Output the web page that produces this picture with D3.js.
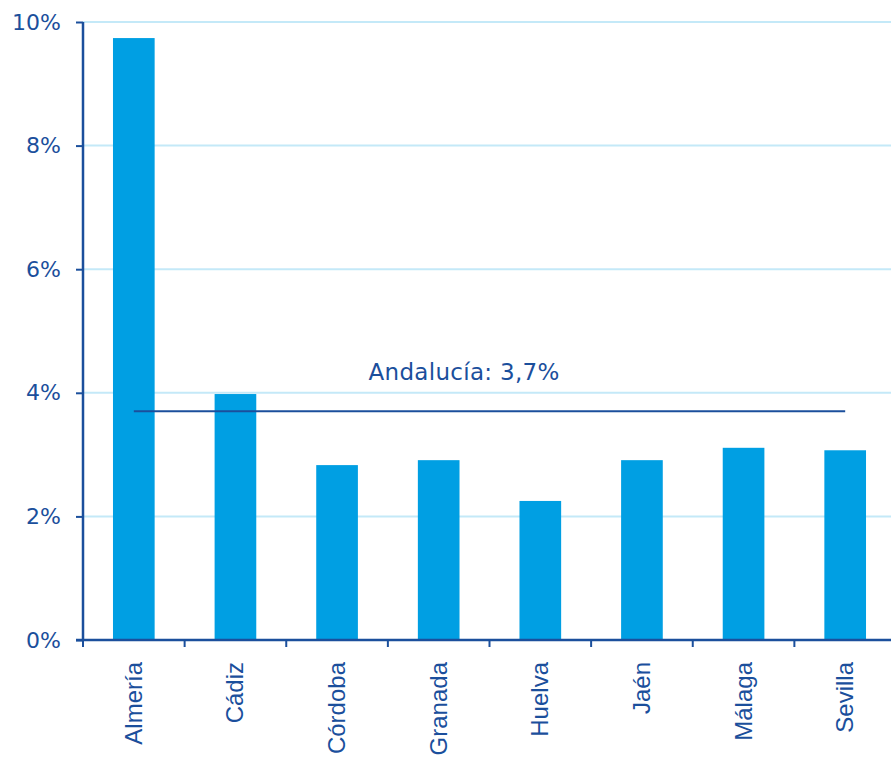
<!DOCTYPE html>
<html>
<head>
<meta charset="utf-8">
<script src="https://cdn.jsdelivr.net/npm/d3@7"></script>
<style>
  body { margin: 0; background: #fff; }
  svg { display: block; }
</style>
</head>
<body>
<svg id="chart"></svg>
<script>
// data
const provinces = ['Almería', 'Cádiz', 'Córdoba', 'Granada', 'Huelva', 'Jaén', 'Málaga', 'Sevilla'];
const rates = [9.74, 3.98, 2.83, 2.91, 2.25, 2.91, 3.11, 3.07];
const yTicks = [0, 2, 4, 6, 8, 10];
const regionLabel = 'Andalucía: 3,7%';
const regionRate = 3.7;

const config = {
  containerWidth: 891,
  containerHeight: 758,
  margin: { top: 22, right: -5, bottom: 118, left: 83 }
};
const width = config.containerWidth - config.margin.left - config.margin.right;
const height = config.containerHeight - config.margin.top - config.margin.bottom;

const blue = '#009fe3';
const dark = '#1b4f9c';
const grid = '#c4e9f8';

const svg = d3.select('#chart')
    .attr('width', config.containerWidth)
    .attr('height', config.containerHeight);

const chart = svg.append('g')
    .attr('transform', `translate(${config.margin.left},${config.margin.top})`);

const xScale = d3.scaleBand()
    .domain(provinces)
    .range([0, width])
    .paddingInner(0.59)
    .paddingOuter(0.295);

// band boundaries for the category ticks
const xEdges = d3.scaleBand().domain(provinces).range([0, width]);

const yScale = d3.scaleLinear()
    .domain([0, 10])
    .range([height, 0]);

// gridlines
chart.append('g')
  .selectAll('line')
  .data(yTicks.filter(d => d > 0))
  .join('line')
    .attr('x1', 0)
    .attr('x2', width)
    .attr('y1', d => yScale(d))
    .attr('y2', d => yScale(d))
    .attr('stroke', grid)
    .attr('stroke-width', 2);

// bars
chart.append('g')
  .selectAll('rect')
  .data(provinces.map((p, i) => ({ name: p, value: rates[i] })))
  .join('rect')
    .attr('x', d => xScale(d.name))
    .attr('y', d => yScale(d.value))
    .attr('width', xScale.bandwidth())
    .attr('height', d => height - yScale(d.value))
    .attr('fill', blue);

// regional average line + label
const lineX1 = xScale('Almería') + xScale.bandwidth() / 2;
const lineX2 = xScale('Sevilla') + xScale.bandwidth() / 2;
chart.append('line')
    .attr('x1', lineX1)
    .attr('x2', lineX2)
    .attr('y1', yScale(regionRate))
    .attr('y2', yScale(regionRate))
    .attr('stroke', dark)
    .attr('stroke-width', 2);

chart.append('text')
    .attr('x', xEdges('Granada') + xEdges.bandwidth() * 0.75)
    .attr('y', yScale(regionRate) - 31)
    .attr('text-anchor', 'middle')
    .attr('fill', dark)
    .style('font-family', '"DejaVu Sans", Verdana, sans-serif')
    .style('font-size', '23px')
    .style('letter-spacing', '0.3px')
    .text(regionLabel);

// y axis
const yAxis = d3.axisLeft(yScale)
    .tickValues(yTicks)
    .tickSize(7)
    .tickPadding(15)
    .tickFormat(d => d + '%');

const yAxisG = chart.append('g').call(yAxis);
yAxisG.select('.domain').attr('stroke', dark).attr('stroke-width', 2.5)
    .attr('d', `M0,0V${height}`);
yAxisG.selectAll('.tick line').attr('stroke', dark).attr('stroke-width', 2);
yAxisG.selectAll('.tick text')
    .attr('fill', dark)
    .style('font-family', '"DejaVu Sans", Verdana, sans-serif')
    .style('font-size', '22px');

// x axis
const xAxisG = chart.append('g')
    .attr('transform', `translate(0,${height})`);

xAxisG.append('line')
    .attr('x1', -7)
    .attr('x2', width)
    .attr('stroke', dark)
    .attr('stroke-width', 2.5);

xAxisG.selectAll('.edge')
  .data(provinces)
  .join('line')
    .attr('class', 'edge')
    .attr('x1', d => xEdges(d))
    .attr('x2', d => xEdges(d))
    .attr('y1', 0)
    .attr('y2', 7)
    .attr('stroke', dark)
    .attr('stroke-width', 2);

xAxisG.selectAll('.label')
  .data(provinces)
  .join('text')
    .attr('class', 'label')
    .attr('transform', d => `translate(${xScale(d) + xScale.bandwidth() / 2 + 8},22) rotate(-90)`)
    .attr('text-anchor', 'end')
    .attr('fill', dark)
    .style('font-family', '"Liberation Sans", Arial, sans-serif')
    .style('font-size', '24px')
    .text(d => d);
</script>
</body>
</html>
